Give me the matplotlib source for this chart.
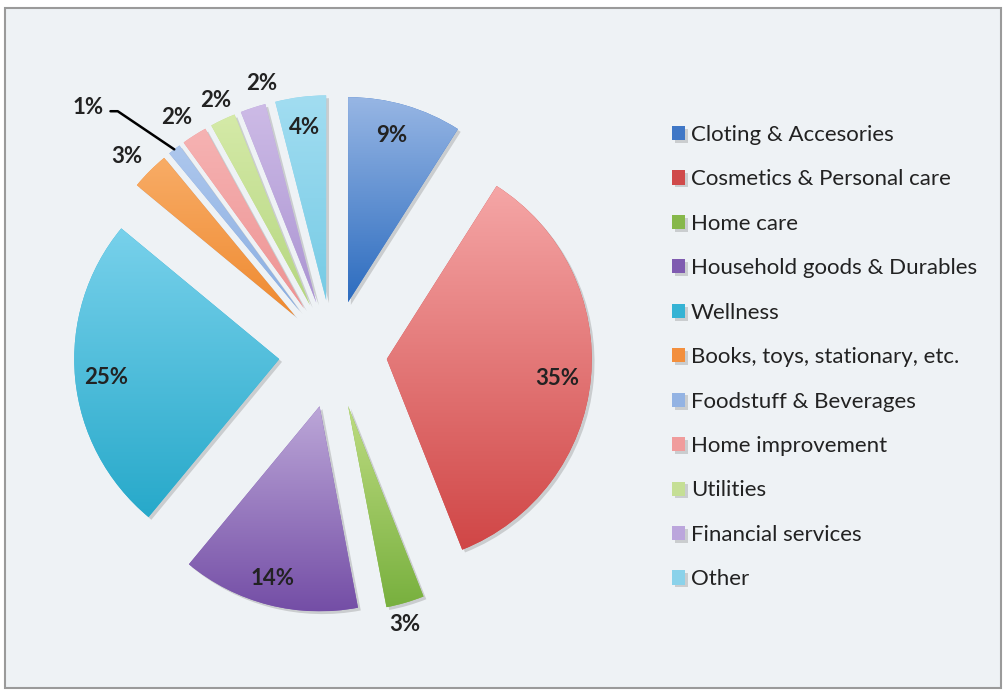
import numpy as np
import matplotlib.pyplot as plt
import matplotlib.patheffects as pe
from matplotlib.colors import LinearSegmentedColormap
from matplotlib.patches import Rectangle

plt.rcParams['font.family'] = ['Lato', 'DejaVu Sans']

# data
categories = ['Cloting & Accesories', 'Cosmetics & Personal care', 'Home care',
              'Household goods & Durables', 'Wellness', 'Books, toys, stationary, etc.',
              'Foodstuff & Beverages', 'Home improvement', 'Utilities',
              'Financial services', 'Other']
shares = [9, 35, 3, 14, 25, 3, 1, 2, 2, 2, 4]
pct_labels = [f"{v}%" for v in shares]

# colours: legend swatch, gradient top, gradient bottom
base_colors = ['#3f77c6', '#d04a4a', '#86b84a', '#7f5bb0', '#35b3d4', '#f38f3d',
               '#93b3e3', '#f09c9c', '#c5df95', '#bba6dc', '#8ad2ea']
top_colors = ['#97b6e4', '#f5a6a6', '#bedc82', '#bca7d8', '#78d1eb', '#f8ac66',
              '#adc7ed', '#f6b3b3', '#d5eaa8', '#cdbbe6', '#a2ddf1']
bottom_colors = ['#2c6cbf', '#d04646', '#78b03e', '#744ea6', '#27a9ca', '#ef8a30',
                 '#8aaee1', '#ed9393', '#b5d680', '#ab94d2', '#76cbe5']

# label placement: distance from slice centre in radii, angle shift in degrees
label_dist = [0.84, 0.835, 1.10, 0.87, 0.85, 1.13, 1.436, 1.12, 1.10, 1.10, 0.85]
label_shift = [1.4, -1.0, -1.6, -0.8, 0.6, 1.4, 8.25, 1.4, -0.5, -4.0, 0.0]

W, H = 1004, 696
R = 205
CENTER = (333, 342)
EXPLODE = 54  # pie() offsets in data units

fig = plt.figure(figsize=(W / 100, H / 100), dpi=100)
ax = fig.add_axes([0, 0, 1, 1])

# chart area frame
ax.add_patch(Rectangle((5, 8), 996, 680, facecolor='#eef2f5', edgecolor='#9a9a9a',
                       linewidth=1.5, zorder=0))

wedges, _ = ax.pie(shares, explode=[EXPLODE] * len(shares), radius=R, center=CENTER,
                   startangle=90, counterclock=False, colors=base_colors,
                   wedgeprops=dict(linewidth=0))

for w, c_top, c_bot in zip(wedges, top_colors, bottom_colors):
    w.set_path_effects([pe.SimplePatchShadow(offset=(2, -2), shadow_rgbFace='#888888', alpha=0.35),
                        pe.Normal()])
    ext = w.get_patch_transform().transform_path(w.get_path()).get_extents()
    cmap = LinearSegmentedColormap.from_list('g', [c_bot, c_top])
    grad = np.linspace(0, 1, 256).reshape(-1, 1)
    im = ax.imshow(grad, cmap=cmap, extent=[ext.x0, ext.x1, ext.y0, ext.y1],
                   origin='lower', aspect='auto', interpolation='bicubic', zorder=2)
    im.set_clip_path(w)

# percentage labels
for i, (w, lab) in enumerate(zip(wedges, pct_labels)):
    mid = np.deg2rad((w.theta1 + w.theta2) / 2)
    cx, cy = w.center
    ang = mid + np.deg2rad(label_shift[i])
    tx = cx + label_dist[i] * R * np.cos(ang)
    ty = cy + label_dist[i] * R * np.sin(ang)
    if shares[i] == 1:
        ex = cx + R * np.cos(mid)
        ey = cy + R * np.sin(mid)
        ax.annotate(lab, xy=(ex, ey), xytext=(tx, ty), ha='center', va='center',
                    fontsize=16, fontweight='bold', color='#222222', zorder=5,
                    arrowprops=dict(arrowstyle='-', color='black', lw=1.8,
                                    shrinkA=3, shrinkB=0, relpos=(1, 0.3),
                                    connectionstyle='angle,angleA=0,angleB=-34,rad=0'))
    else:
        ax.text(tx, ty, lab, ha='center', va='center', fontsize=16,
                fontweight='bold', color='#222222', zorder=5)

leg = ax.legend(wedges, categories, loc='upper left', bbox_to_anchor=(663 / W, 1 - 116 / H),
                frameon=False, fontsize=16, handlelength=0.6, handleheight=0.6,
                handletextpad=0.25, labelspacing=1.10, borderaxespad=0)
for t in leg.get_texts():
    t.set_color('#222222')

ax.set_xlim(0, W)
ax.set_ylim(0, H)
ax.set_aspect('auto')
ax.axis('off')

fig.savefig('out.png', dpi=100, facecolor='white')
